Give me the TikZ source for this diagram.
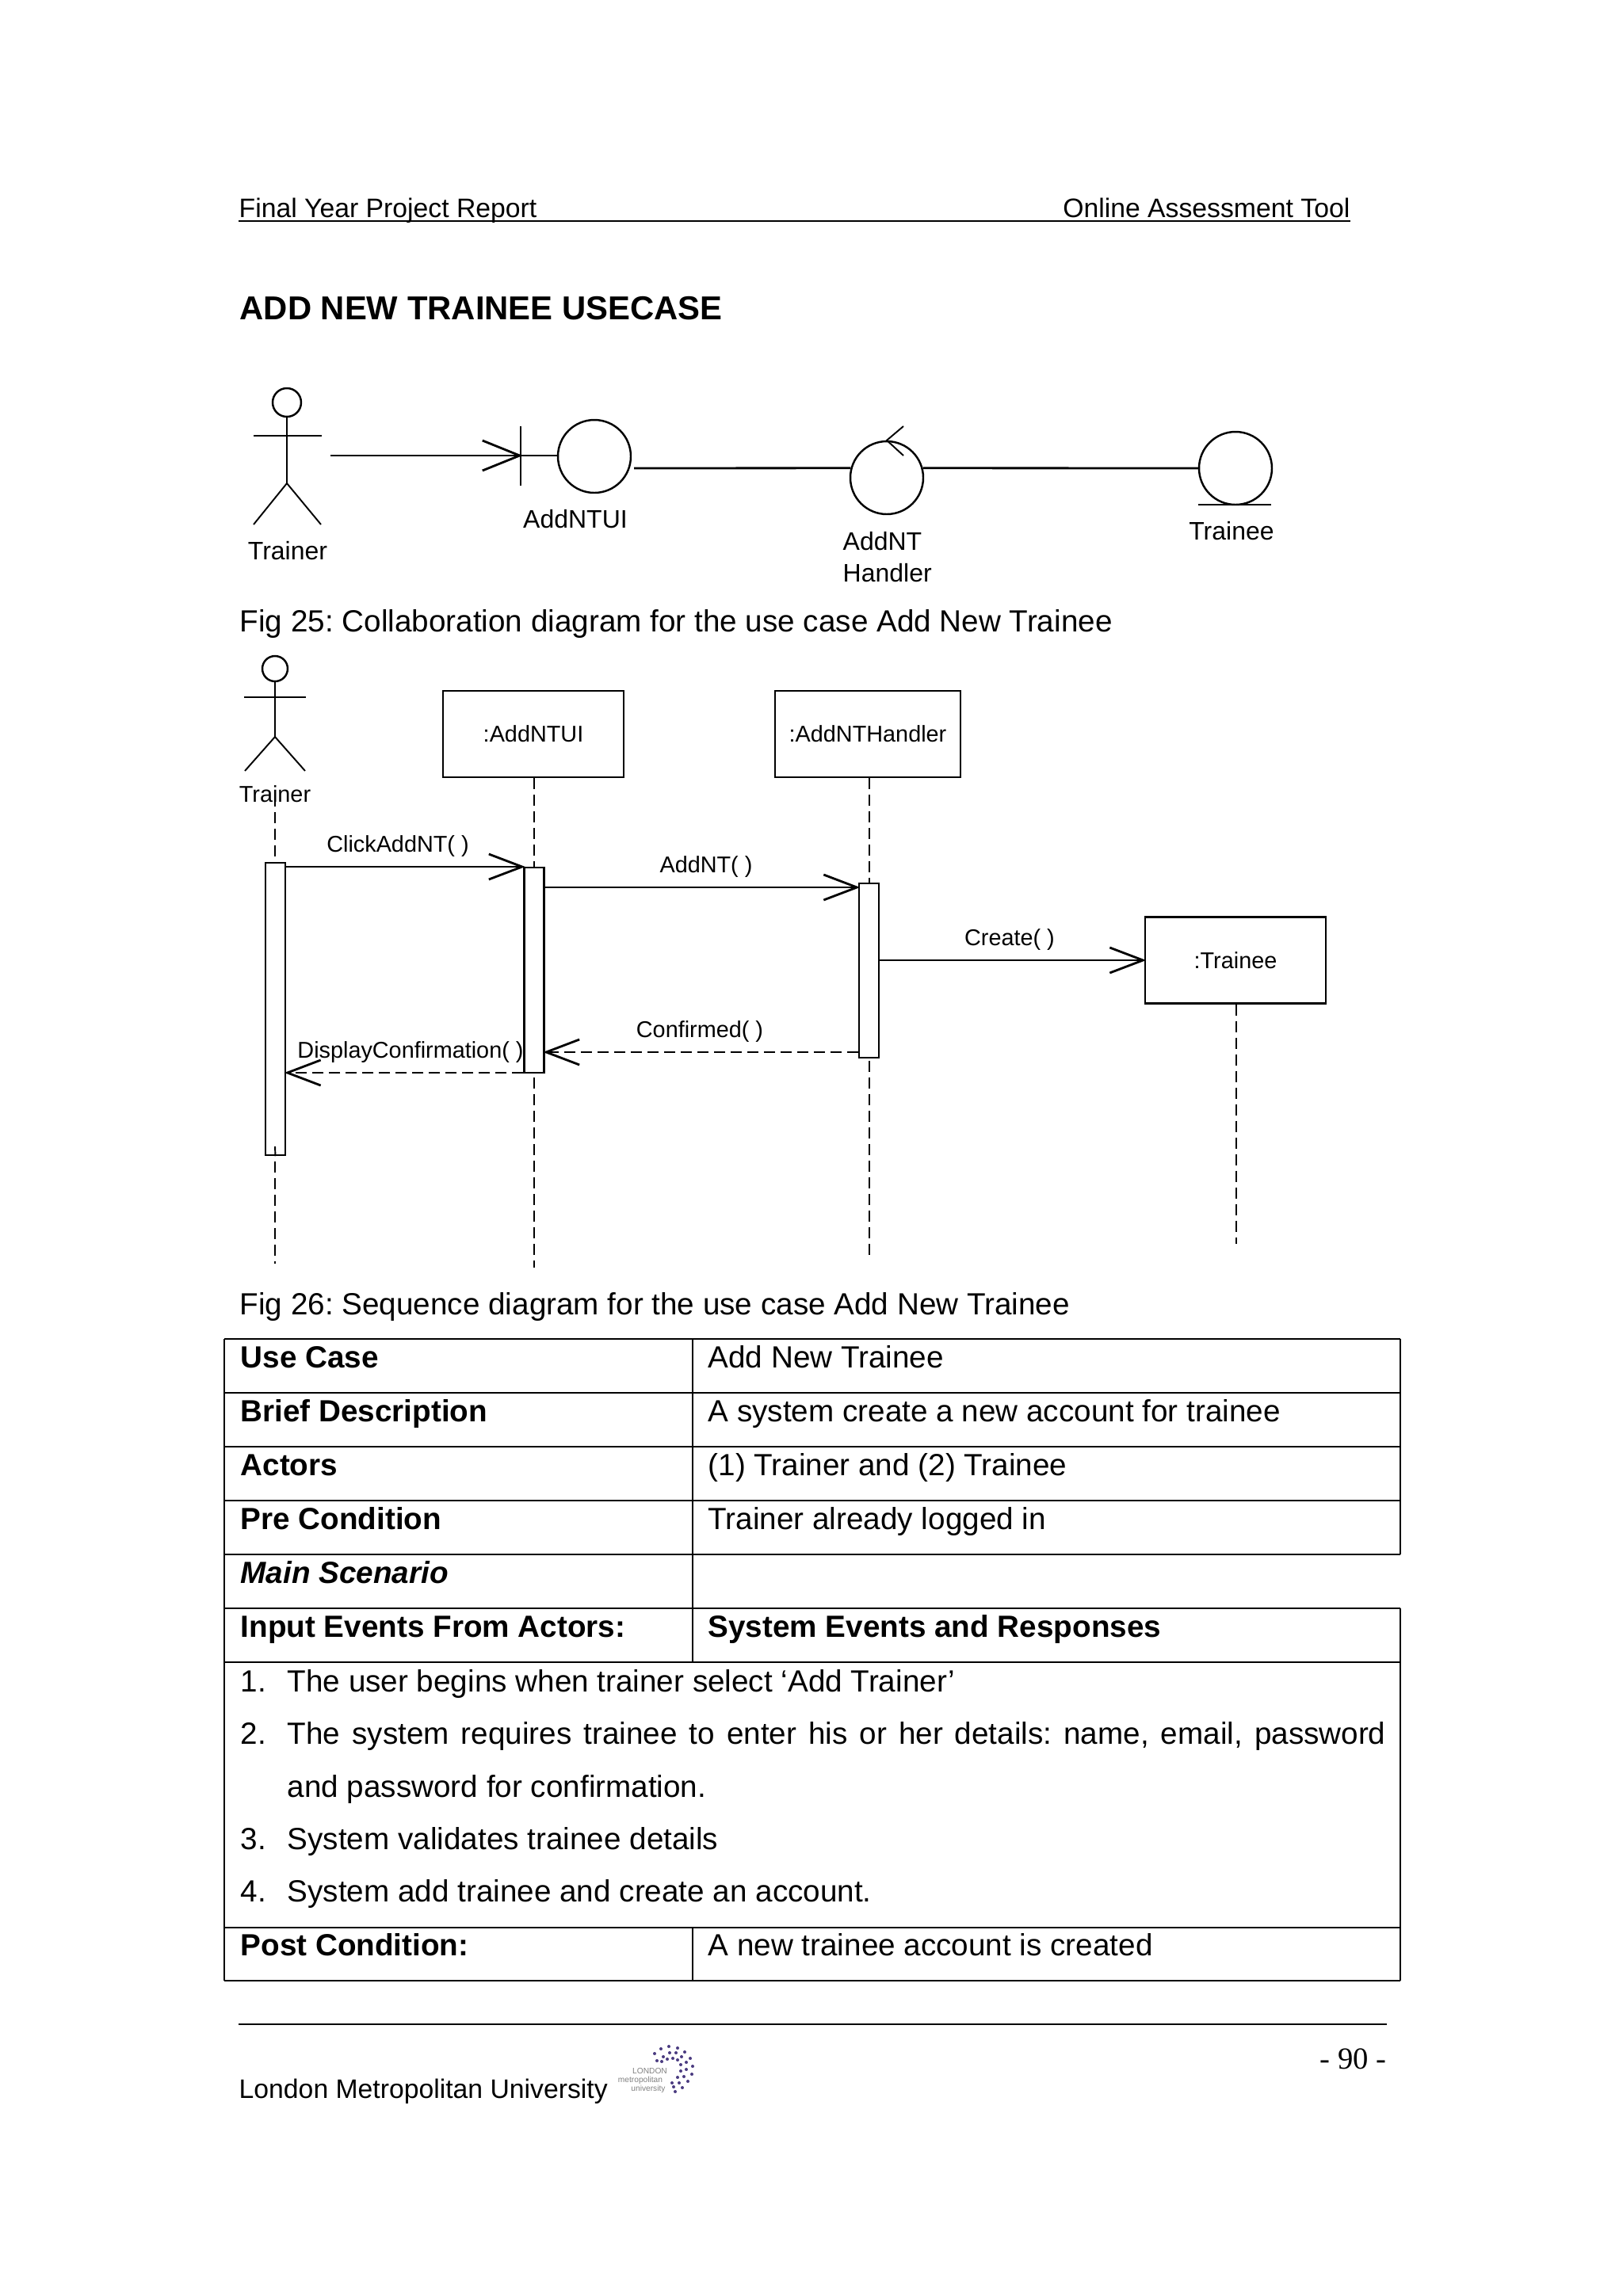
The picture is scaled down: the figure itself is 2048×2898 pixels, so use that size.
\documentclass[tikz,border=0pt]{standalone}
\usepackage{fontspec}
\setmainfont{Liberation Sans}
\newfontfamily\serifpage{Liberation Serif}
\usepackage{xcolor}
\usetikzlibrary{
    positioning,
    arrows.meta,
}
\frenchspacing
\definecolor{logopurple}{HTML}{4A3B80}
\tikzset{
    % Text styles
    bodytext/.style={anchor=base west, inner sep=0pt, font=\fontsize{11}{14}\selectfont},
    headtext/.style={bodytext, font=\fontsize{11}{14}\selectfont\bfseries},
    smalltext/.style={bodytext, font=\fontsize{9.6}{12}\selectfont},
    % Diagram styles
    lane/.style={line width=0.55pt},
    solidline/.style={line width=0.8pt},
    umlcircle/.style={circle, draw, line width=0.7pt, minimum size=9.2mm, inner sep=0pt},
    collab label/.style={anchor=center, inner sep=0pt, align=left, font=\fontsize{9.1}{11.2}\selectfont},
    seq label/.style={anchor=center, inner sep=0pt, font=\fontsize{8.2}{10}\selectfont},
    lifebox/.style={rectangle, draw, line width=0.7pt, minimum width=22.8mm, minimum height=10.9mm, inner sep=0pt, font=\fontsize{8.2}{10}\selectfont},
    activation/.style={rectangle, draw, line width=0.7pt, fill=white, minimum width=2.5mm, inner sep=0pt},
    lifeline/.style={line width=0.6pt, dash pattern=on 1.4mm off 0.7mm},
    msg/.style={-{Straight Barb[length=4.2mm, width=3.2mm]}, line width=0.8pt, shorten >=-0.25mm},
    reply/.style={msg, dash pattern=on 1.4mm off 0.7mm},
}
\begin{document}
\begin{tikzpicture}[x=0.1mm, y=-0.1mm]
    \useasboundingbox (0,0) rectangle (2048,2898);

    % Page header
    \node[smalltext] (report) at (301,274) {Final Year Project Report};
    \node[smalltext, anchor=base east] (tool) at (1704,274) {Online Assessment Tool};
    \coordinate (headleft) at (301,279);
    \coordinate (headright) at (1704,279);
    \draw[solidline] (headleft) -- (headright);
    \node[bodytext, font=\fontsize{11.9}{16}\selectfont\bfseries] (title) at (302,403) {ADD NEW TRAINEE USECASE};

    % Collaboration diagram
    \node[umlcircle, minimum size=3.6mm] (chead) at (362,508) {};
    \coordinate (cneck) at (362,550);
    \coordinate (cwaist) at (362,610);
    \coordinate (carml) at (320,550);
    \coordinate (carmr) at (406,550);
    \coordinate (clegl) at (320,662);
    \coordinate (clegr) at (405,662);
    \draw[lane] (chead) -- (cwaist);
    \draw[solidline] (carml) -- (carmr);
    \draw[lane] (clegl) -- (cwaist) -- (clegr);
    \node[collab label] (ctrainer) at (363,695) {Trainer};

    \node[umlcircle] (ui) at (750,576) {};
    \node[umlcircle] (handler) at (1119,603) {};
    \node[umlcircle] (entity) at (1559,591) {};
    \coordinate (barstart) at (657,538);
    \coordinate (barend) at (657,613);
    \coordinate (barmid) at (657,575);
    \coordinate (cfrom) at (417,575);
    \coordinate (uilink) at (800,591);
    \coordinate (tickup) at (1140,538);
    \coordinate (tickdown) at (1140,575);
    \coordinate (baseleft) at (1512,637);
    \coordinate (baseright) at (1604,637);
    \draw[lane] (barstart) -- (barend);
    \draw[-{Straight Barb[length=4.7mm, width=3.8mm]}, solidline, shorten >=-0.25mm] (cfrom) -- (barmid);
    \draw[solidline] (barmid) -- (ui.west |- barmid);
    \draw[solidline] (uilink) -- (handler.165);
    \draw[solidline] (handler.15) -- (entity.west);
    \draw[lane] (tickup) -- (handler.north) -- (tickdown);
    \draw[solidline] (baseleft) -- (baseright);
    \node[collab label] (cui) at (726,655) {AddNTUI};
    \node[collab label, anchor=north west] (chandler) at (1063,671) {AddNT\\Handler};
    \node[collab label] (centity) at (1554,670) {Trainee};

    \node[bodytext] (fig25) at (302,797) {Fig 25: Collaboration diagram for the use case Add New Trainee};

    % Sequence diagram: actor and objects
    \node[umlcircle, minimum size=3.2mm] (shead) at (347,844) {};
    \coordinate (sneck) at (347,880);
    \coordinate (swaist) at (347,930);
    \coordinate (sarml) at (308,880);
    \coordinate (sarmr) at (386,880);
    \coordinate (slegl) at (309,973);
    \coordinate (slegr) at (385,973);
    \draw[lane] (shead) -- (swaist);
    \draw[lane] (sarml) -- (sarmr);
    \draw[lane] (slegl) -- (swaist) -- (slegr);
    \node[seq label] (strainer) at (347,1002) {Trainer};

    \node[lifebox] (uibox) at (673,926.5) {:AddNTUI};
    \node[lifebox, minimum width=23.4mm] (hbox) at (1095,926.5) {:AddNTHandler};
    \node[lifebox] (tbox) at (1559,1212) {:Trainee};

    % Lifelines
    \coordinate (tstart) at (347,1004);
    \coordinate (tend) at (347,1595);
    \coordinate (uiend) at (674,1600);
    \coordinate (hend) at (1097,1585);
    \coordinate (tboxend) at (1560,1570);
    \draw[lifeline] (tstart) -- (tend);
    \draw[lifeline] (uibox.south -| uiend) -- (uiend);
    \draw[lifeline] (hbox.south -| hend) -- (hend);
    \draw[lifeline] (tbox.south -| tboxend) -- (tboxend);

    % Activations
    \node[activation, minimum height=36.9mm] (act1) at (347.5,1273.5) {};
    \node[activation, minimum height=25.9mm] (act2) at (674,1224.5) {};
    \node[activation, minimum height=22mm] (act3) at (1096.5,1225) {};
    \coordinate (acttick) at (347,1447);
    \draw[lane] (acttick) -- (act1.south);

    % Messages
    \coordinate (m1) at (0,1094);
    \coordinate (m2) at (0,1120);
    \coordinate (m3) at (0,1212);
    \coordinate (m4) at (0,1328);
    \coordinate (m5) at (0,1354);
    \draw[msg] (act1.east |- m1) -- (act2.west |- m1);
    \draw[msg] (act2.east |- m2) -- (act3.west |- m2);
    \draw[msg] (act3.east |- m3) -- (tbox.west |- m3);
    \draw[reply] (act3.west |- m4) -- (act2.east |- m4);
    \draw[reply] (act2.west |- m5) -- (act1.east |- m5);
    \node[seq label] (click) at (502,1068) {ClickAddNT( )};
    \node[seq label] (addnt) at (891,1094) {AddNT( )};
    \node[seq label] (create) at (1274,1186) {Create( )};
    \node[seq label] (confirmed) at (883,1302) {Confirmed( )};
    \node[seq label] (display) at (518,1328) {DisplayConfirmation( )};

    \node[bodytext] (fig26) at (302,1659) {Fig 26: Sequence diagram for the use case Add New Trainee};

    % Table rules
    \foreach \y in {1690,1758,1826,1894,1962,2030,2098,2433,2500} {
        \draw[solidline] (283,\y) -- (1767,\y);
    }
    \draw[solidline] (283,1690) -- (283,2500);
    \draw[lane] (874,1690) -- (874,2098);
    \draw[lane] (874,2433) -- (874,2500);
    \draw[solidline] (1767,1690) -- (1767,1962);
    \draw[solidline] (1767,2030) -- (1767,2500);

    % Table text
    \node[headtext] (r1l) at (303,1726) {Use Case};
    \node[headtext] (r2l) at (303,1794) {Brief Description};
    \node[headtext] (r3l) at (303,1862) {Actors};
    \node[headtext] (r4l) at (303,1930) {Pre Condition};
    \node[headtext, font=\fontsize{11}{14}\selectfont\bfseries\itshape] (r5l) at (303,1998) {Main Scenario};
    \node[headtext] (r6l) at (303,2066) {Input Events From Actors:};
    \node[bodytext] (r1r) at (893,1726) {Add New Trainee};
    \node[bodytext] (r2r) at (893,1794) {A system create a new account for trainee};
    \node[bodytext] (r3r) at (893,1862) {(1) Trainer and (2) Trainee};
    \node[bodytext] (r4r) at (893,1930) {Trainer already logged in};
    \node[headtext] (r6r) at (893,2066) {System Events and Responses};
    \node[bodytext] (n1) at (303,2135) {1.};
    \node[bodytext] (n2) at (303,2201) {2.};
    \node[bodytext] (n3) at (303,2334) {3.};
    \node[bodytext] (n4) at (303,2400) {4.};
    \node[bodytext] (s1) at (362,2135) {The user begins when trainer select ‘Add Trainer’};
    \node[bodytext] (s2) at (362,2201) {\makebox[138.6mm][s]{The system requires trainee to enter his or her details: name, email, password}};
    \node[bodytext] (s2b) at (362,2268) {and password for confirmation.};
    \node[bodytext] (s3) at (362,2334) {System validates trainee details};
    \node[bodytext] (s4) at (362,2400) {System add trainee and create an account.};
    \node[headtext] (r8l) at (303,2468) {Post Condition:};
    \node[bodytext] (r8r) at (893,2468) {A new trainee account is created};

    % Page footer
    \coordinate (footleft) at (301,2555);
    \coordinate (footright) at (1750,2555);
    \draw[solidline] (footleft) -- (footright);
    \node[smalltext] (uni) at (301,2648) {London Metropolitan University};
    \node[bodytext, anchor=base east, font=\fontsize{11}{14}\serifpage] (page) at (1750,2611) {- 90 -};

    % Logo
    \foreach \px/\py in {826/2592, 834/2586, 844/2583, 855/2585, 864/2590, 871/2598, 874/2608, 873/2618, 868/2627, 861/2635, 852/2640,
                         829/2601, 837/2596, 845/2591, 853/2591, 860/2596, 866/2603, 866/2612, 863/2621, 857/2629, 850/2634,
                         835/2602, 842/2599, 849/2598, 855/2600, 859/2606, 859/2614, 855/2622, 848/2629} {
        \fill[logopurple] (\px,\py) circle (0.2mm);
    }
    \node[inner sep=0pt, text=gray, font=\fontsize{2.9}{4}\selectfont] (lname) at (820,2614) {LONDON};
    \node[inner sep=0pt, text=gray, font=\fontsize{2.9}{4}\selectfont] (lmetro) at (808,2626) {metropolitan};
    \node[inner sep=0pt, text=gray, font=\fontsize{2.9}{4}\selectfont] (luni) at (818,2637) {university};
\end{tikzpicture}
\end{document}
